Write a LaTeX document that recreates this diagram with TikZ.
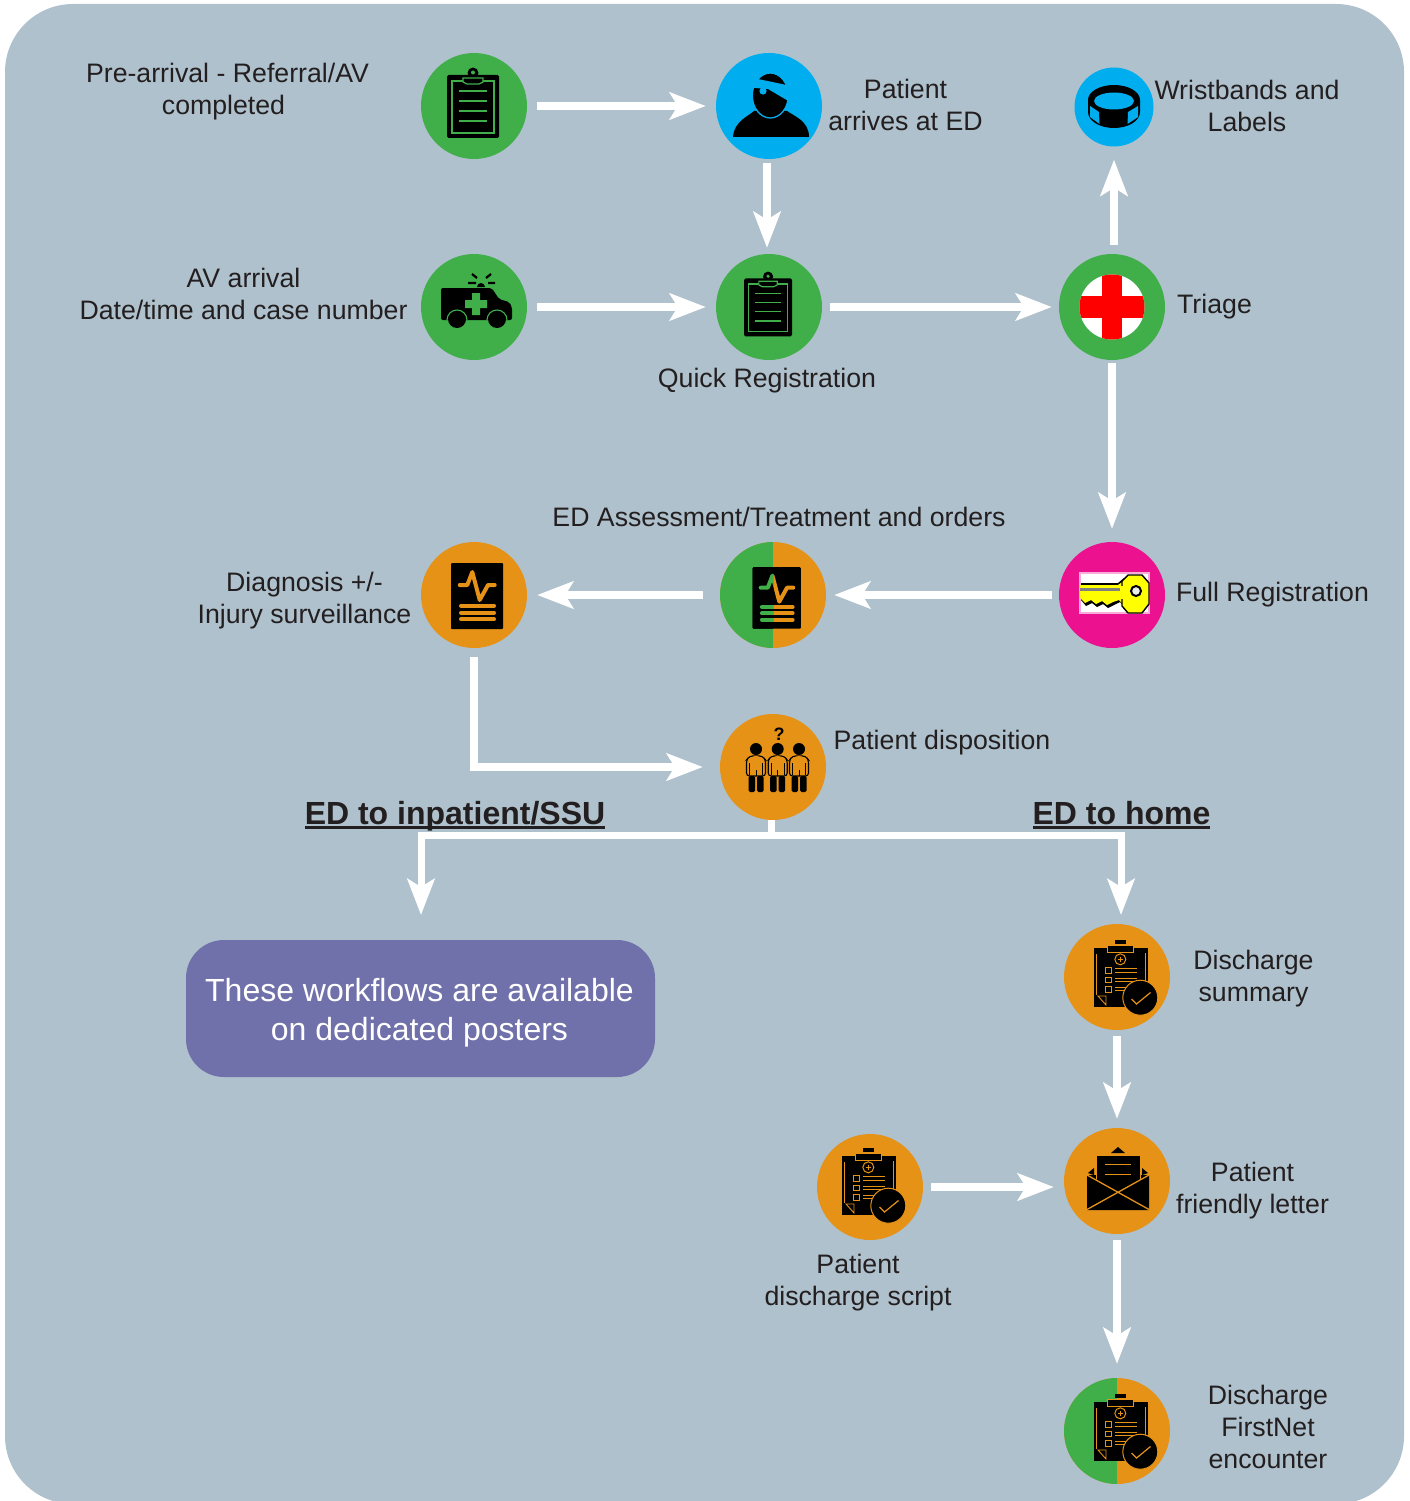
\documentclass[tikz,border=0pt]{standalone}
\usepackage{fontspec}
\setmainfont{Liberation Sans}
\usetikzlibrary{arrows.meta,calc}
\definecolor{bgc}{HTML}{AFC1CC}
\definecolor{grn}{HTML}{40AF4A}
\definecolor{blu}{HTML}{00ADEF}
\definecolor{org}{HTML}{E59217}
\definecolor{pnk}{HTML}{EC118F}
\definecolor{purp}{HTML}{7070AA}
\definecolor{ink}{HTML}{231F20}
\definecolor{keyy}{HTML}{FFFF00}
\tikzset{
  disc/.style={circle,minimum size=106pt,inner sep=0pt,fill=#1},
  splitdisc/.style={circle,minimum size=106pt,inner sep=0pt,fill=org,
    path picture={\fill[grn] (path picture bounding box.south west) rectangle (path picture bounding box.north);}},
  lab/.style={align=center,text=ink,font=\fontsize{26.7}{32}\selectfont,inner sep=0pt},
  head/.style={anchor=base,text=ink,font=\fontsize{32}{36}\selectfont\bfseries,inner sep=0pt},
  flow/.style={draw=white,line width=8pt,-{Stealth[length=36pt,width=27pt,inset=8pt]}},
}
% clipboard
\newcommand\iconclip[3]{\begin{scope}[shift={(#1)},scale=#2]
  \fill[black,rounded corners=1.5pt] (-27,-31) rectangle (25,32);
  \fill[black] (-1,-33) circle (5.5);
  \fill[#3] (-1,-33.5) circle (2);
  \draw[#3,line width=1.3pt] (-22,-25) rectangle (20,27);
  \draw[#3,line width=1.2pt,fill=black] (-11,-28) -- (9,-28) -- (9,-24) -- (5,-22) -- (-7,-22) -- (-11,-24) -- cycle;
  \foreach \yy in {-15,-5,5,15} \draw[#3,line width=1.4pt] (-15,\yy) -- (13,\yy);
\end{scope}}
% ECG chart
\newcommand\iconchart[3]{\begin{scope}[shift={(#1)},scale=#2]
  \fill[black,rounded corners=1pt] (-23,-32) rectangle (29,34);
  \draw[#3,line width=4pt,line cap=round,line join=round] (-14.3,-10) -- (-6.7,-10) -- (-1.7,-23) -- (5.7,5) -- (14,-10) -- (20.7,-10);
  \foreach \yy in {10.7,17.7,24.3} \draw[#3,line width=4pt,line cap=round] (-13,\yy) -- (20,\yy);
\end{scope}}
% clipboard with tick
\newcommand\iconcheck[2]{\begin{scope}[shift={(#1)}]
  \fill[black] (-23,-29) rectangle (31,30);
  \draw[#2,line width=.9pt] (-20.5,-23) -- (-20.5,18) (28.5,-24) -- (28.5,8);
  \fill[black] (-9.3,-32) rectangle (16.7,-24.3);
  \draw[#2,line width=1pt] (-9.3,-32) rectangle (16.7,-24.3);
  \fill[black] (-1.7,-37) rectangle (9.3,-32.7);
  \draw[#2,line width=1pt] (3.3,-17.7) circle (5.5);
  \draw[#2,line width=.9pt] (0.5,-17.7) -- (6,-17.7) (3.3,-20.5) -- (3.3,-14.9);
  \foreach \yy in {-3.7,5.7,15} {
    \draw[#2,line width=1pt] (-11.7,\yy) rectangle ++(5.7,-5.5);
    \draw[#2,line width=1pt] (-1.7,\yy) ++(0,-4.6) -- ++(22,0) ++(-22,3.3) -- ++(22,0);
  }
  \draw[#2,line width=.9pt] (-19,19) -- (-11,19) -- (-11,28) -- cycle;
  \draw[#2,line width=1pt,fill=black] (23.3,20.7) circle (17.5);
  \draw[#2,line width=1.2pt] (14.5,22) -- (19.5,27) -- (33.5,15.5);
\end{scope}}
\begin{document}
\begin{tikzpicture}[x=1pt,y=-1pt]
\useasboundingbox (0,0) rectangle (1410,1501);
\fill[bgc,rounded corners=68pt] (5,4) rectangle (1404,1504);

% discs
\node[disc=grn] (pre) at (474,106) {};
\node[disc=blu] (arr) at (769,106) {};
\node[disc=blu,minimum size=79pt] (wri) at (1114,107) {};
\node[disc=grn] (amb) at (474,307) {};
\node[disc=grn] (qrg) at (769,307) {};
\node[disc=grn] (tri) at (1112,307) {};
\node[disc=org] (dia) at (474,595) {};
\node[splitdisc] (eda) at (773,595) {};
\node[disc=pnk] (ful) at (1112,595) {};
\node[disc=org] (dsp) at (773,767) {};
\node[disc=org] (sum) at (1117,977) {};
\node[disc=org] (scr) at (870,1187) {};
\node[disc=org] (let) at (1117,1181) {};
\node[splitdisc] (fne) at (1117,1431) {};
\node[fill=purp,rounded corners=38pt,minimum width=469pt,minimum height=137pt,inner sep=0pt] (box) at (420.5,1008.5) {};
\node[text=white,inner sep=0pt,align=center,font=\fontsize{32}{39}\selectfont] (boxt) at (419.5,1012.5) {These workflows are available\\on dedicated posters};

% clipboard icons
\iconclip{pre.center}{1}{grn}
\iconclip{qrg.center}{.92}{grn}

% person icon
\begin{scope}[shift={(arr.center)}]
  \fill[black] (-36,31) .. controls (-35,15) and (-20,10) .. (-15,5) -- (18,5) .. controls (25,10) and (40,15) .. (40,31) -- cycle;
  \draw[blu,line width=1.3pt,fill=black] (1.3,-10.5) ellipse (18 and 22.5);
  \fill[blu] (-21,-33) -- (-11,-27) -- (20,-20.5) -- (21,-4) -- (-1,-17) -- (-20,-18.5) -- cycle;
  \fill[blu] (-6,-15) circle (3.6);
\end{scope}

% wristband
\begin{scope}[shift={(wri.center)}]
  \fill[black] (-26,-7) -- (-26,5) arc[start angle=180,end angle=0,x radius=26,y radius=16] -- (26,-7) -- cycle;
  \fill[black] (0,-7) ellipse (26 and 15);
  \fill[blu] (-24,-1) -- (-15,5) -- (-14.5,17) -- (-24,10) -- cycle;
  \fill[blu] (24,-1) -- (14,5) -- (13.5,17) -- (24,10) -- cycle;
  \fill[blu] (0,-6) ellipse (20 and 8.5);
\end{scope}

% ambulance
\begin{scope}[shift={(amb.center)}]
  \fill[black,rounded corners=2pt] (-33,-19) -- (17.7,-19) -- (25,-8) -- (35,-5) -- (38,0) -- (38,13) -- (-33,13) -- cycle;
  \fill[black] (-17,12) circle (9) (23,12) circle (9);
  \draw[grn,line width=1.1pt] (-27,13) arc[start angle=180,end angle=360,radius=10];
  \draw[grn,line width=1.1pt] (13,13) arc[start angle=180,end angle=360,radius=10];
  \fill[grn] (-2,-14) rectangle (6,8) (-9,-7) rectangle (13,1);
  \fill[black] (3,-20) arc[start angle=180,end angle=360,radius=4] -- cycle;
  \draw[black,line width=2.2pt] (-6,-24) -- (2,-24) (14,-24) -- (21,-24) (-2,-33) -- (3,-29) (17,-33) -- (12,-29);
\end{scope}

% triage cross
\begin{scope}
  \fill[white] (tri.center) circle (32.5);
  \clip (tri.center) circle (32.5);
  \fill[red] ($(tri.center)+(-10.3,-34)$) rectangle ($(tri.center)+(10.3,34)$);
  \fill[red] ($(tri.center)+(-34,-10.8)$) rectangle ($(tri.center)+(34,10.8)$);
\end{scope}

% ECG charts
\iconchart{dia.center}{1}{org}
\iconchart{[xshift=1pt,yshift=-2pt]eda.center}{.93}{org}
\begin{scope}
  \clip (eda.south west) rectangle (eda.north);
  \iconchart{[xshift=1pt,yshift=-2pt]eda.center}{.93}{grn}
\end{scope}

% key
\begin{scope}[shift={(ful.center)}]
  \fill[white,draw=pnk!35!white,line width=1.5pt] (-32,-22) rectangle (37,18);
  \fill[black] (-31,-12) -- (6,-12) -- (12,-17) -- (14,14) -- (8,7) -- (2,10) -- (-4,13) -- (-9,9) -- (-15,12) -- (-20,8) -- (-26,11) -- (-31,5) -- cycle;
  \fill[keyy] (-32,-10) -- (6,-10) -- (13,-15) -- (13,12) -- (7,5) -- (1,7) -- (-5,10) -- (-10,6) -- (-16,9) -- (-21,5) -- (-27,8) -- (-32,3) -- cycle;
  \fill[keyy,draw=black,line width=1.4pt] (10,-14) -- (16,-20) -- (30,-20) -- (37,-12) -- (37,9) -- (30,18) -- (16,18) -- (10,11) -- cycle;
  \fill[keyy] (4,-9.2) rectangle (13,4);
  \fill[gray] (-32,-6.7) rectangle (8,-4.3);
  \draw[black,line width=2pt,fill=white!85!gray] (24,-4) circle (5);
\end{scope}

% people
\begin{scope}[shift={(dsp.center)}]
  \foreach \xx in {-17,4.7,26} {
    \begin{scope}[xshift=\xx pt]
      \fill[black] (0,-18) circle (6);
      \draw[black,line width=1.1pt,rounded corners=3pt] (-4,-11) -- (-6.5,-11) -- (-9.5,-7) -- (-9.5,9) -- (9.5,9) -- (9.5,-7) -- (6.5,-11) -- (4,-11);
      \draw[black,line width=1pt] (-6.5,-4) -- (-6.5,8) (6.5,-4) -- (6.5,8) (0,3) -- (0,9);
      \fill[black,rounded corners=1.5pt] (-7.5,9) rectangle (-1,25) (1,9) rectangle (7.5,25);
    \end{scope}
  }
  \node[inner sep=0pt,font=\fontsize{18}{18}\selectfont\bfseries,text=black] (qmk) at (6,-33) {?};
\end{scope}

% clipboards with tick
\iconcheck{sum.center}{org}
\iconcheck{[xshift=-5pt,yshift=2pt]scr.center}{org}
\iconcheck{fne.center}{org}

% envelope
\begin{scope}[shift={(let.center)}]
  \fill[black] (-29,-8) -- (-23,-13) -- (-23,-6) -- cycle;
  \fill[black] (31,-8) -- (25,-13) -- (25,-6) -- cycle;
  \fill[black] (-6,-28) -- (1,-34) -- (8,-28) -- cycle;
  \fill[black] (-30,-6) -- (32,-6) -- (32,29) -- (-30,29) -- cycle;
  \draw[org,line width=.9pt,fill=black] (-21,-26) rectangle (23,12);
  \fill[black] (-30,29) -- (-30,-6) -- (1,9) -- (32,-6) -- (32,29) -- cycle;
  \draw[org,line width=1.3pt] (-30,-6) -- (32,28.5) (32,-6) -- (-30,28.5);
  \draw[org,line width=1.3pt] (-12,-16.5) -- (14,-16.5) (-12,-6.5) -- (14,-6.5);
\end{scope}

% connectors
\draw[flow,shorten <=10pt] (pre.east) -- ([xshift=-10pt]arr.west);
\draw[flow,shorten <=10pt] (amb.east) -- ([xshift=-10pt]qrg.west);
\draw[flow,shorten <=4pt] ([xshift=-2pt]arr.south) -- ([xshift=-2pt,yshift=6pt]qrg.north);
\draw[flow,shorten <=8pt] (qrg.east) -- ([xshift=-7pt]tri.west);
\draw[flow,shorten <=9pt] ([xshift=2pt]tri.north) -- ([yshift=-13pt]wri.south);
\draw[flow,shorten <=3pt] (tri.south) -- ([yshift=13pt]ful.north);
\draw[flow,shorten <=7pt] (ful.west) -- ([xshift=8pt]eda.east);
\draw[flow,shorten <=17pt] (eda.west) -- ([xshift=10pt]dia.east);
\coordinate (dspin) at ($(dsp.west)+(-17,0)$);
\draw[flow,shorten <=9pt,sharp corners] (dia.south) |- (dspin);
\coordinate (bus) at (771.5,835);
\coordinate (busl) at (421,915);
\coordinate (busr) at (1121,915);
\draw[flow,line width=7pt] (bus |- dsp.south) -- (bus) -| (busl);
\draw[flow,line width=7pt] (bus) -| (busr);
\draw[flow,shorten <=6pt] (sum.south) -- ([yshift=9pt]let.north);
\coordinate (letin) at ([xshift=-10pt]let.west |- scr.east);
\draw[flow,shorten <=8pt] (scr.east) -- (letin);
\draw[flow,shorten <=6pt] (let.south) -- ([yshift=14pt]fne.north);

% labels
\node[lab] (tpre) at (227.5,92) {Pre-arrival - Referral/AV\\completed\hspace*{8pt}};
\node[lab] (tarr) at (905.5,105) {Patient\\arrives at ED};
\node[lab] (twri) at (1247,106) {Wristbands and\\Labels};
\node[lab] (tamb) at (243.5,294) {AV arrival\\Date/time and case number};
\node[lab] (tqrg) at (767,381) {Quick Registration};
\node[lab] (ttri) at (1214.5,307) {Triage};
\node[lab] (teda) at (779,517) {ED Assessment/Treatment and orders};
\node[lab] (tful) at (1272.5,595) {Full Registration};
\node[lab] (tdia) at (304.5,601) {Diagnosis +/-\\Injury surveillance};
\node[lab] (tdsp) at (942,743) {Patient disposition};
\node[head] (tinp) at (455,824) {\vtop{\hbox{\smash{ED to inpatient/SSU}}\kern2pt\hrule height 2.6pt}};
\node[head] (thom) at (1121.5,824) {\vtop{\hbox{\smash{ED to home}}\kern2pt\hrule height 2.6pt}};
\node[lab] (tsum) at (1253.5,979) {Discharge\\summary};
\node[lab] (tlet) at (1252.5,1191) {Patient\\friendly letter};
\node[lab] (tscr) at (858,1283) {Patient\\discharge script};
\node[lab] (tfne) at (1268,1427) {Discharge\\FirstNet\\encounter};
\end{tikzpicture}
\end{document}
